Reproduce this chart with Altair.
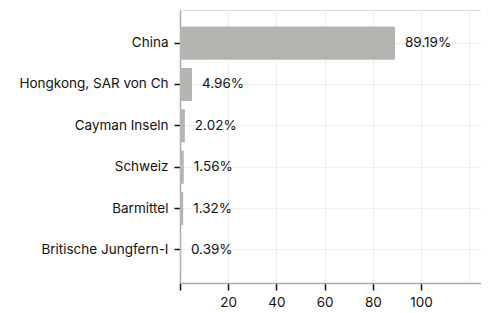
import altair as alt
import pandas as pd

countries = ["China", "Hongkong, SAR von Ch", "Cayman Inseln", "Schweiz", "Barmittel", "Britische Jungfern-I"]
values = [89.19, 4.96, 2.02, 1.56, 1.32, 0.39]
labels = ["89.19%", "4.96%", "2.02%", "1.56%", "1.32%", "0.39%"]

df = pd.DataFrame({"country": countries, "value": values, "label": labels})

font = "Inter"
fs = 13.5
xmax = max(values) * 1.4

y_enc = alt.Y("country:N", sort=countries, title=None,
              scale=alt.Scale(paddingInner=0.2, paddingOuter=0.4),
              axis=alt.Axis(labelFont=font, labelFontSize=fs, labelColor="#111111",
                            tickColor="#111111", tickSize=6, tickWidth=1.5, labelPadding=6,
                            domainColor="#aaaaaa", domainWidth=1.5,
                            gridColor="#eeeeee", grid=True, labelLimit=200))
x_enc = alt.X("value:Q", title=None,
              scale=alt.Scale(domain=[0, xmax], nice=False),
              axis=alt.Axis(values=[0, 20, 40, 60, 80, 100, 120],
                            labelExpr="datum.value == 0 || datum.value == 120 ? '' : datum.label",
                            labelFont=font, labelFontSize=fs, labelColor="#111111",
                            tickColor="#111111", tickSize=7, tickWidth=1.5, labelPadding=5,
                            tickOpacity={"condition": {"test": "datum.value == 120", "value": 0}, "value": 1},
                            domainColor="#aaaaaa", domainWidth=1.5,
                            gridColor="#eeeeee"))

bars = alt.Chart(df).mark_bar(color="#b5b4b0").encode(x=x_enc, y=y_enc)
text = alt.Chart(df).mark_text(align="left", dx=10, font=font, fontSize=fs, color="#111111").encode(
    x="value:Q", y=alt.Y("country:N", sort=countries), text="label:N")

chart = (bars + text).properties(
    width=301, height=273,
    autosize=alt.AutoSizeParams(type="none"),
    padding={"left": 172, "top": 2, "right": 0, "bottom": 28},
).configure_view(stroke=None).configure(background="white")

chart.save("out.html", embed_options={"renderer": "svg", "actions": False})
